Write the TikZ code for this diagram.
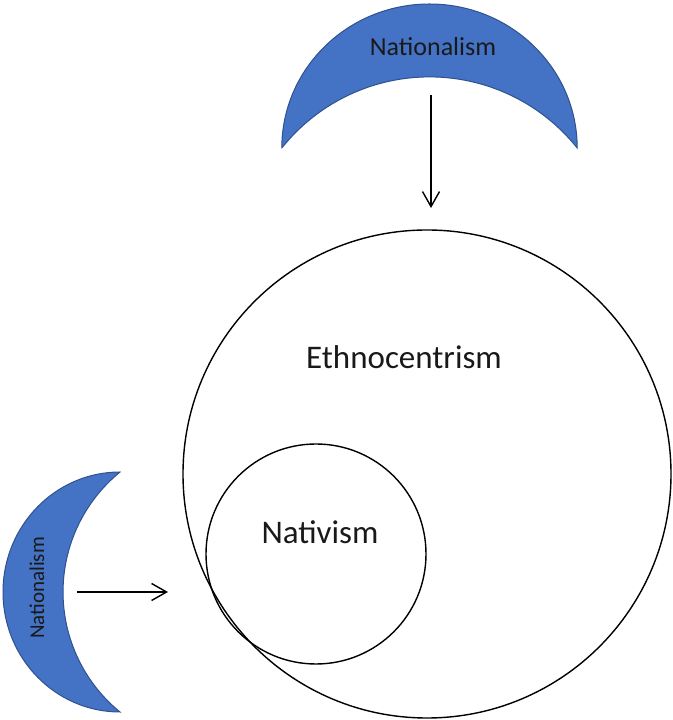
\documentclass[tikz,border=0pt]{standalone}
\usepackage{fontspec}
\setmainfont{Carlito}
\usetikzlibrary{arrows.meta}
\definecolor{crescentfill}{HTML}{4472C4}
\definecolor{crescentline}{HTML}{2F528F}
\begin{document}
\begin{tikzpicture}[x=1pt,y=1pt,
  crescent/.style={fill=crescentfill,draw=crescentline,line width=1pt},
  ring/.style={circle,draw=black,line width=1.4pt,inner sep=0pt},
  link/.style={draw=black,line width=1.4pt,-{Straight Barb[length=15pt,width=17pt,line width=1.4pt]}},
  bigtext/.style={font=\fontsize{33}{36}\selectfont,text=black!90}
]
\useasboundingbox (0,0) rectangle (672,720);

% top crescent
\draw[crescent] (281.8,572) arc[start angle=180,end angle=0,x radius=147.7,y radius=144]
  arc[start angle=38.6,end angle=141.4,radius=189] -- cycle;
\node[font=\fontsize{26}{28}\selectfont,text=black!90] (topnat) at (433,673) {Nationalism};

% left crescent
\draw[crescent] (120,248) arc[start angle=90,end angle=270,x radius=117,y radius=120]
  arc[start angle=230.8,end angle=129.2,radius=154.8] -- cycle;
\node[font=\fontsize{21}{23}\selectfont,text=black!90,rotate=90] (leftnat) at (37,132) {Nationalism};

% circles
\node[ring,minimum size=488pt] (eth) at (427,246) {};
\node[ring,minimum size=220pt] (nat) at (316,166) {};
\node[bigtext] (ethlbl) at (404,363) {Ethnocentrism};
\node[bigtext] (natlbl) at (320,188) {Nativism};

% arrows
\coordinate (topstart) at (431,625);
\coordinate (topend) at (431,512);
\coordinate (leftstart) at (77,128);
\coordinate (leftend) at (168,128);
\draw[link] (topstart) -- (topend);
\draw[link] (leftstart) -- (leftend);
\end{tikzpicture}
\end{document}
